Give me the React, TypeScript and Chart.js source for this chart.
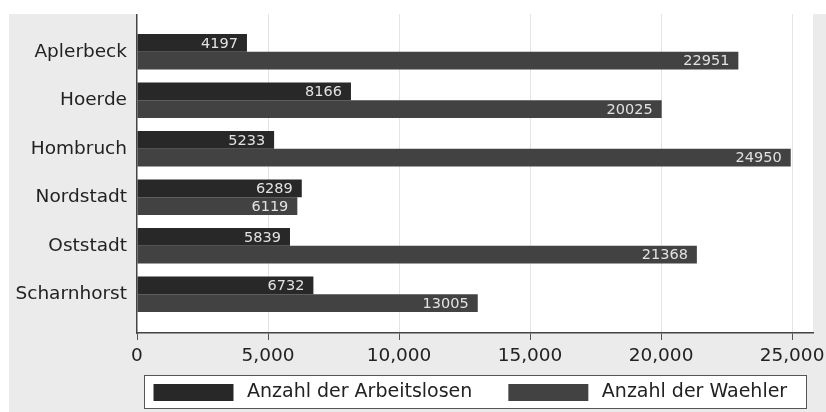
import { useEffect, useRef } from 'react';
import { Chart, registerables } from 'chart.js';

Chart.register(...registerables);

const categories = ['Aplerbeck', 'Hoerde', 'Hombruch', 'Nordstadt', 'Oststadt', 'Scharnhorst'];
const arbeitslose = [4197, 8166, 5233, 6289, 5839, 6732];
const waehler = [22951, 20025, 24950, 6119, 21368, 13005];
const seriesLabels = ['Anzahl der Arbeitslosen', 'Anzahl der Waehler'];
const seriesColors = ['#282828', '#424242'];
const xTickValues = [0, 5000, 10000, 15000, 20000, 25000];
const xMax = 25800;

const FONT = "'DejaVu Sans', sans-serif";

const plotBackground = {
  id: 'plotBackground',
  beforeDraw(chart: any) {
    const { ctx, chartArea } = chart;
    ctx.save();
    ctx.fillStyle = '#ffffff';
    ctx.fillRect(chartArea.left, chartArea.top, chartArea.right - chartArea.left, chartArea.bottom - chartArea.top);
    ctx.restore();
  },
};

const valueLabels = {
  id: 'valueLabels',
  afterDatasetsDraw(chart: any) {
    const { ctx } = chart;
    ctx.save();
    ctx.font = `14.5px ${FONT}`;
    ctx.fillStyle = '#e2e2e2';
    ctx.textAlign = 'right';
    ctx.textBaseline = 'middle';
    chart.data.datasets.forEach((ds: any, di: number) => {
      const meta = chart.getDatasetMeta(di);
      meta.data.forEach((el: any, i: number) => {
        const v = ds.data[i].x;
        ctx.fillText(String(v), el.x - 9, el.y + 1);
      });
    });
    ctx.restore();
  },
};

const boxedLegend = {
  id: 'boxedLegend',
  afterDraw(chart: any) {
    const { ctx, chartArea } = chart;
    const boxW = 662;
    const boxH = 33;
    const cx = (chartArea.left + chartArea.right) / 2;
    const left = cx - boxW / 2;
    const top = 361;
    ctx.save();
    ctx.fillStyle = '#ffffff';
    ctx.fillRect(left, top, boxW, boxH);
    ctx.strokeStyle = '#555555';
    ctx.lineWidth = 1;
    ctx.strokeRect(Math.round(left) + 0.5, top + 0.5, boxW, boxH);
    ctx.font = `19px ${FONT}`;
    ctx.textBaseline = 'middle';
    ctx.textAlign = 'left';
    let x = left + 9.5;
    chart.data.datasets.forEach((ds: any) => {
      ctx.fillStyle = ds.backgroundColor;
      ctx.fillRect(x, top + 9, 80, 17);
      x += 80 + 13.5;
      ctx.fillStyle = '#222222';
      ctx.fillText(ds.label, x, top + 17.5);
      x += ctx.measureText(ds.label).width + 36;
    });
    ctx.restore();
  },
};

export default function App() {
  const canvasRef = useRef<HTMLCanvasElement | null>(null);

  useEffect(() => {
    const canvas = canvasRef.current;
    if (!canvas) return;
    const chart = new Chart(canvas, {
      type: 'bar',
      data: {
        datasets: [
          {
            label: seriesLabels[0],
            data: arbeitslose.map((v, i) => ({ x: v, y: i })),
            backgroundColor: seriesColors[0],
            borderWidth: 0,
            categoryPercentage: 0.73,
            barPercentage: 1,
          },
          {
            label: seriesLabels[1],
            data: waehler.map((v, i) => ({ x: v, y: i })),
            backgroundColor: seriesColors[1],
            borderWidth: 0,
            categoryPercentage: 0.73,
            barPercentage: 1,
          },
        ] as any,
      },
      options: {
        indexAxis: 'y',
        animation: false,
        responsive: false,
        devicePixelRatio: 1,
        layout: { padding: { left: 0, right: 13, top: 0, bottom: 0 } },
        plugins: {
          legend: { display: false },
          tooltip: { enabled: false },
        },
        scales: {
          x: {
            type: 'linear',
            min: 0,
            max: xMax,
            afterBuildTicks: (scale: any) => {
              scale.ticks = xTickValues.map((v) => ({ value: v }));
            },
            afterFit: (scale: any) => {
              scale.height = 79;
              scale.paddingLeft = 0;
              scale.paddingRight = 0;
            },
            ticks: {
              autoSkip: false,
              maxRotation: 0,
              padding: 5,
              color: '#222222',
              font: { family: FONT, size: 18.5 },
              callback: (v: any) => Number(v).toLocaleString('en-US'),
            },
            grid: {
              color: (ctx: any) => (ctx.tick && ctx.tick.value === 0 ? 'rgba(0,0,0,0)' : '#e4e4e4'),
              tickColor: '#555555',
              tickLength: 7,
              lineWidth: 1,
            },
            border: { display: true, color: '#444444', width: 1.5 },
          },
          y: {
            type: 'linear',
            reverse: true,
            offset: false,
            min: -0.78,
            max: 5.8,
            afterFit: (scale: any) => {
              scale.width = 128;
              scale.paddingTop = 0;
              scale.paddingBottom = 0;
            },
            ticks: {
              stepSize: 1,
              includeBounds: false,
              autoSkip: false,
              padding: 10,
              color: '#222222',
              font: { family: FONT, size: 18.5 },
              callback: (v: any) => categories[v] ?? '',
            },
            grid: { display: false, drawTicks: false, offset: false },
            border: { display: true, color: '#444444', width: 1.5, z: 1 },
          },
        },
      } as any,
      plugins: [plotBackground, valueLabels, boxedLegend],
    });
    return () => chart.destroy();
  }, []);

  return (
    <div
      style={{
        position: 'absolute',
        left: 9,
        top: 14,
        width: 817,
        height: 398,
        background: '#ebebeb',
      }}
    >
      <canvas ref={canvasRef} width={817} height={398} style={{ display: 'block' }} />
    </div>
  );
}
